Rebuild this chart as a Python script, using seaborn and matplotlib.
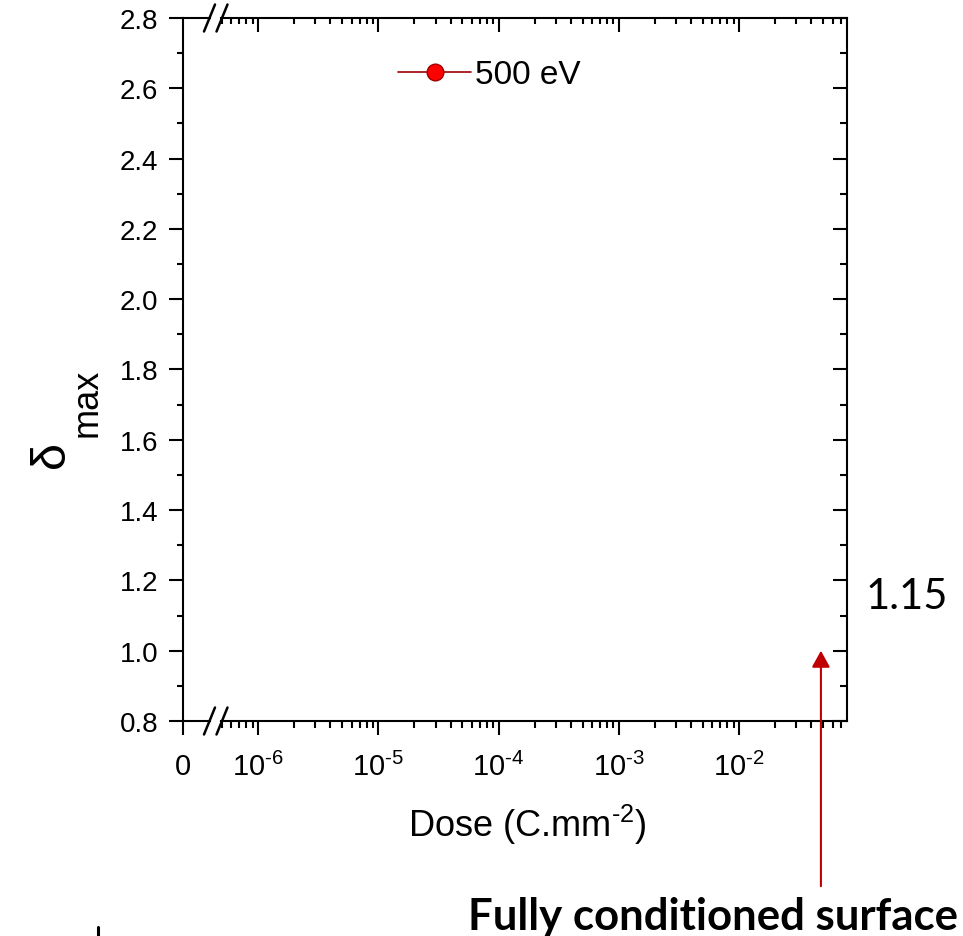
import matplotlib
matplotlib.use("Agg")
import numpy as np
import matplotlib.pyplot as plt
import matplotlib.ticker as mticker
import matplotlib.transforms as mtrans
from matplotlib.lines import Line2D
import seaborn as sns

# ---------------- data ----------------
series_label = "500 eV"
dose_500eV = []        # no data points are visible in the reference
delta_500eV = []
y_ticks = [0.8, 1.0, 1.2, 1.4, 1.6, 1.8, 2.0, 2.2, 2.4, 2.6, 2.8]
y_limits = (0.8, 2.8)
x_zero_ticks = [0]
x_zero_labels = ["0"]
x_log_ticks = [1e-6, 1e-5, 1e-4, 1e-3, 1e-2]
x_log_limits = (4.92e-7, 0.0791)
arrow_dose = 0.048
arrow_delta = 1.0
value_text = "1.15"
note_text = "Fully conditioned surface"
x_label = r"Dose (C.mm$^{\mathdefault{\text{-}2}}$)"
y_label_main = "δ"
y_label_sub = "max"

# ---------------- style ----------------
sns.set_theme(style="ticks")
plt.rcParams["font.family"] = ["Liberation Sans", "DejaVu Sans"]
plt.rcParams["mathtext.fontset"] = "custom"
plt.rcParams["mathtext.rm"] = "Liberation Sans"
plt.rcParams["mathtext.it"] = "Liberation Sans:italic"
plt.rcParams["mathtext.bf"] = "Liberation Sans:bold"
plt.rcParams["axes.unicode_minus"] = False
plt.rcParams["axes.linewidth"] = 1.5
for k in ("text.color", "axes.labelcolor", "xtick.color", "ytick.color", "axes.edgecolor"):
    plt.rcParams[k] = "black"

W, H = 963, 937
fig = plt.figure(figsize=(W / 100, H / 100), dpi=100)
fig.patch.set_facecolor("white")

def px(x0, y0, x1, y1):
    return [x0 / W, 1 - y1 / H, (x1 - x0) / W, (y1 - y0) / H]

def log_label(v, pos):
    e = int(round(np.log10(v)))
    if e < 0:
        return r"$\mathdefault{10^{\text{-}%d}}$" % (-e)
    return r"$\mathdefault{10^{%d}}$" % e

ax0 = fig.add_axes(px(183, 19, 210, 722))
ax2 = fig.add_axes(px(221, 19, 847, 722))
for a in (ax0, ax2):
    a.set_facecolor("none")
    a.set_ylim(*y_limits)
    for s in a.spines.values():
        s.set_color("black")
        s.set_linewidth(1.5)

# left (zero) segment
ax0.set_xlim(0, 1)
ax0.spines["right"].set_visible(False)
ax0.set_xticks(x_zero_ticks)
ax0.set_xticklabels(x_zero_labels)
ax0.set_yticks(y_ticks)
ax0.yaxis.set_major_formatter(mticker.FormatStrFormatter("%.1f"))
ax0.yaxis.set_minor_locator(mticker.MultipleLocator(0.1))
ax0.tick_params(axis="y", which="major", direction="out", length=10, width=1.5,
                labelsize=20, pad=8, left=True, right=False, colors="black")
ax0.tick_params(axis="y", which="minor", direction="out", length=4.5, width=1.5,
                left=True, right=False)
ax0.tick_params(axis="x", which="major", direction="out", length=10, width=1.5,
                labelsize=21, pad=12, top=False, bottom=True)
ax0.tick_params(axis="x", which="minor", bottom=False, top=False)

# log segment
ax2.set_xscale("log")
ax2.set_xlim(*x_log_limits)
ax2.spines["left"].set_visible(False)
ax2.set_xticks(x_log_ticks)
ax2.xaxis.set_major_formatter(mticker.FuncFormatter(log_label))
ax2.xaxis.set_minor_locator(mticker.LogLocator(base=10, subs=range(2, 10), numticks=20))
ax2.xaxis.set_minor_formatter(mticker.NullFormatter())
ax2.tick_params(axis="x", which="major", direction="out", length=10, width=1.5,
                labelsize=21, pad=12, top=False, bottom=True)
ax2.tick_params(axis="x", which="minor", direction="out", length=5, width=1.5,
                top=False, bottom=True)
ax2.set_yticks(y_ticks)
ax2.yaxis.set_minor_locator(mticker.MultipleLocator(0.1))
ax2.tick_params(axis="y", which="major", direction="in", length=10, width=1.5,
                left=False, right=True, labelleft=False, labelright=False)
ax2.tick_params(axis="y", which="minor", direction="in", length=5, width=1.5,
                left=False, right=True)

# top ticks (inward) via twin axis
axt = ax2.twiny()
axt.set_xscale("log")
axt.set_xlim(*x_log_limits)
axt.set_xticks(x_log_ticks)
axt.xaxis.set_minor_locator(mticker.LogLocator(base=10, subs=range(2, 10), numticks=20))
axt.tick_params(axis="x", which="major", direction="in", length=10, width=1.5,
                labeltop=False, top=True, bottom=False)
axt.tick_params(axis="x", which="minor", direction="in", length=4, width=1.5,
                top=True, bottom=False)
for s in axt.spines.values():
    s.set_visible(False)

# series (only its legend entry is visible)
ax2.plot(dose_500eV, delta_500eV, color="#A00000", lw=1.2, marker="o",
         markersize=12, markerfacecolor="#FF0000", markeredgecolor="#A00000",
         markeredgewidth=1, label=series_label)
ax2.legend(loc="center left", bbox_to_anchor=(398 / W, 1 - 76 / H),
           bbox_transform=fig.transFigure, frameon=False, fontsize=24,
           handlelength=2.2, handletextpad=0.1, borderpad=0, borderaxespad=0)

# axis labels
fig.text(527 / W, 1 - 825 / H, x_label, ha="center", va="center", fontsize=26)
fig.text(64 / W, 1 - 455 / H, y_label_main, rotation=90, rotation_mode="anchor",
         ha="center", va="baseline", fontsize=35)
fig.text(97 / W, 1 - 403 / H, y_label_sub, rotation=90, rotation_mode="anchor",
         ha="center", va="baseline", fontsize=26)

# axis-break marks
for yb in (19, 722):
    for cx in (209.5, 222):
        fig.add_artist(Line2D([(cx - 5.5) / W, (cx + 5.5) / W],
                              [1 - (yb + 13.5) / H, 1 - (yb - 13.5) / H],
                              transform=fig.transFigure, color="black", lw=1.8))

# annotation arrow
blend = mtrans.blended_transform_factory(ax2.transData, ax2.transAxes)
ax2.annotate("", xy=(arrow_dose, arrow_delta), xycoords="data",
             xytext=(arrow_dose, -0.235), textcoords=blend,
             arrowprops=dict(arrowstyle="-|>,head_length=0.4,head_width=0.22",
                             color="#C00000", lw=1.5, mutation_scale=25,
                             shrinkA=0, shrinkB=0),
             annotation_clip=False)

fig.text(907 / W, 1 - 597 / H, value_text, ha="center", va="center",
         fontsize=30, family=["Lato", "DejaVu Sans"])
fig.text(713 / W, 1 - 930 / H, note_text, ha="center", va="baseline",
         fontsize=31.5, fontweight="bold", family=["Lato", "DejaVu Sans"])

# small stray mark at bottom left
fig.add_artist(Line2D([98 / W, 98 / W], [0, 1 - 928 / H],
                      transform=fig.transFigure, color="black", lw=2.2))

fig.savefig("out.png", dpi=100)
